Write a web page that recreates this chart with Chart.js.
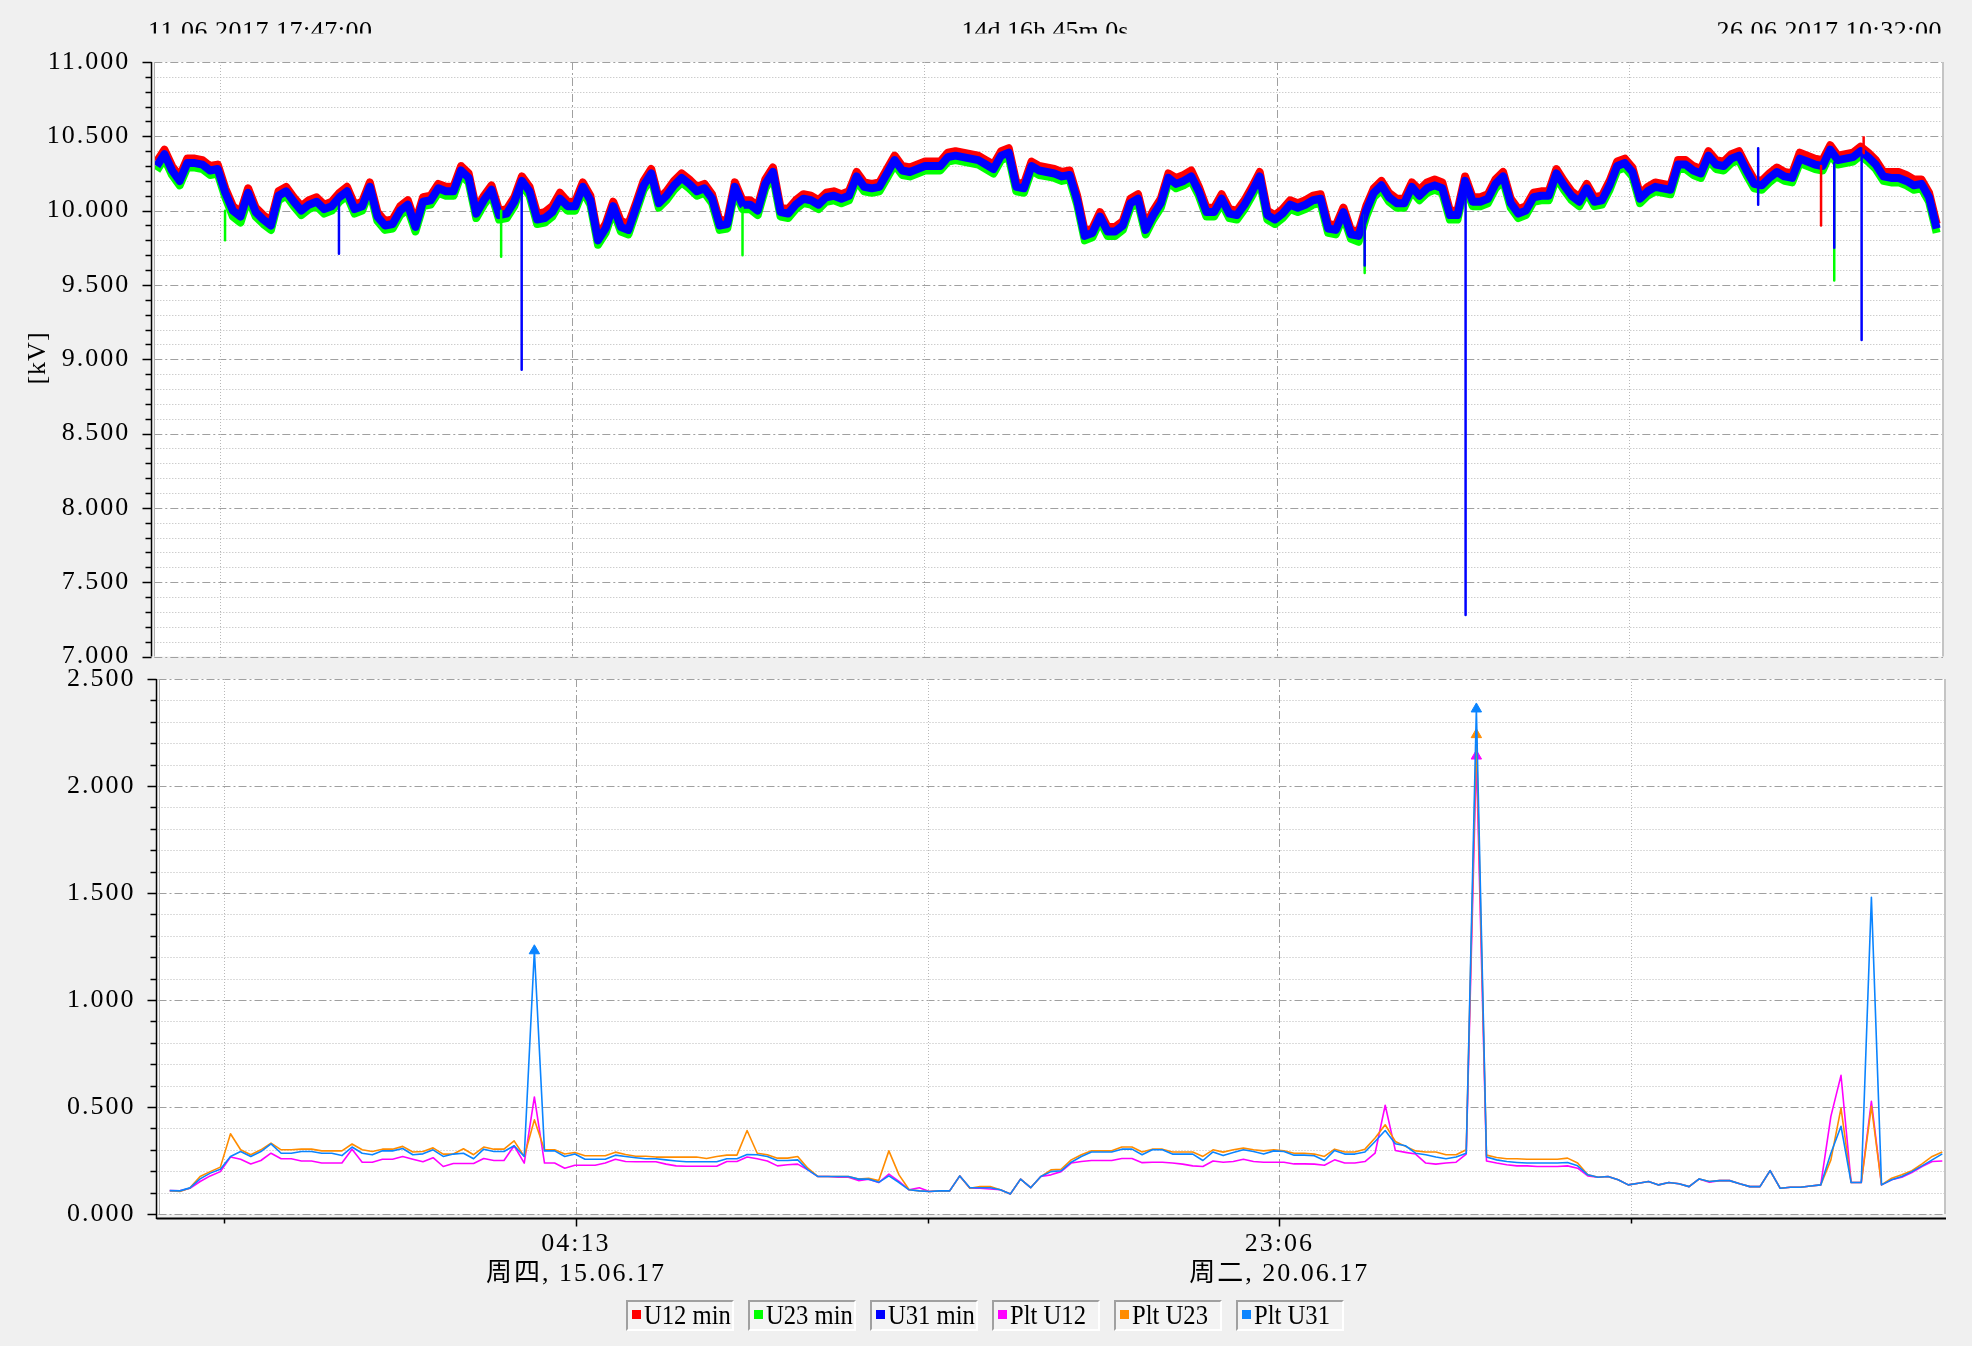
<!DOCTYPE html>
<html>
<head>
<meta charset="utf-8">
<script src="https://cdn.jsdelivr.net/npm/chart.js@4.4.1/dist/chart.umd.min.js"></script>
<style>
html,body{margin:0;padding:0;background:#f0f0f0;}
#wrap{position:relative;width:1972px;height:1346px;overflow:hidden;background:#f0f0f0;}
#wrap canvas{position:absolute;left:0;top:0;}
#legend{position:absolute;left:626px;top:1300px;display:flex;gap:14px;}
.item{position:relative;box-sizing:border-box;width:108px;height:31px;border-style:solid;border-width:2px;border-color:#a0a0a0 #ffffff #ffffff #a0a0a0;background:#f3f3f3;}
.sw{position:absolute;left:4px;top:8px;width:9px;height:9px;}
.tx{position:absolute;left:16px;top:-1px;font-family:"Liberation Serif","Noto Sans CJK SC",serif;font-size:28px;line-height:27px;white-space:nowrap;transform:scaleX(0.88);transform-origin:left center;color:#000;}
</style>
</head>
<body>
<div id="wrap">
  <canvas id="topChart" width="1972" height="1346"></canvas>
  <canvas id="botChart" width="1972" height="1346"></canvas>
  <div id="legend"></div>
</div>
<script>
// ---------- texts / ticks ----------
const headerStart = '11.06.2017 17:47:00';
const headerMid = '14d 16h 45m 0s';
const headerEnd = '26.06.2017 10:32:00';
const unitLabel = '[kV]';
const spanMinutes = 21165;                      // 11.06.2017 17:47 -> 26.06.2017 10:32
const xGridMinutes = [779.5, 4946, 9112.5, 13279, 17445.5];
const xMajorMinutes = [4946, 13279];
const xTickLabels = ['', ['04:13', '周四, 15.06.17'], '', ['23:06', '周二, 20.06.17'], ''];
const topYTicks = [7.0, 7.5, 8.0, 8.5, 9.0, 9.5, 10.0, 10.5, 11.0];
const botYTicks = [0.0, 0.5, 1.0, 1.5, 2.0, 2.5];
const legendNames = ['U12 min', 'U23 min', 'U31 min', 'Plt U12', 'Plt U23', 'Plt U31'];
const legendColors = ['#ff0000', '#00ff00', '#0000ff', '#ff00ff', '#ff8c00', '#0a84ff'];

// ---------- top chart: minimum voltages (kV), sampled every 90 min from +30 min ----------
const topSampleStartMin = 30, topSampleStepMin = 90;
const u12Min = [
10.33,10.41,10.30,10.23,10.35,10.35,10.34,10.30,10.31,10.15,
10.03,9.99,10.15,10.02,9.97,9.93,10.13,10.16,10.09,10.03,
10.07,10.09,10.04,10.06,10.12,10.16,10.04,10.06,10.19,9.99,
9.93,9.94,10.03,10.07,9.92,10.09,10.10,10.18,10.16,10.16,
10.30,10.25,10.01,10.10,10.17,10.00,10.01,10.09,10.23,10.16,
9.98,9.99,10.03,10.12,10.06,10.06,10.19,10.10,9.83,
9.91,10.06,9.93,9.91,10.05,10.20,10.28,10.08,10.13,10.20,
10.25,10.21,10.16,10.18,10.11,9.93,9.94,10.19,10.07,10.07,
10.03,10.21,10.29,10.02,10.01,10.07,10.11,10.10,10.07,10.12,
10.13,10.11,10.13,10.26,10.19,10.18,10.19,10.28,10.37,10.30,
10.29,10.31,10.33,10.33,10.33,10.39,10.40,10.39,10.38,10.37,
10.34,10.31,10.40,10.42,10.19,10.18,10.33,10.30,10.29,
10.28,10.26,10.27,10.10,9.86,9.88,9.99,9.89,9.89,9.93,
10.08,10.11,9.90,10.00,10.08,10.25,10.22,10.24,10.27,10.16,
10.02,10.02,10.11,10.01,10.00,10.07,10.16,10.26,10.00,9.97,
10.01,10.07,10.05,10.07,10.10,10.11,9.91,9.90,10.02,9.87,
9.86,10.03,10.15,10.20,10.12,10.08,10.08,10.19,10.14,10.19,
10.21,10.19,10.00,10.00,10.23,10.09,10.09,10.11,10.21,
10.26,10.08,10.01,10.03,10.12,10.13,10.13,10.28,10.20,10.13,
10.09,10.18,10.09,10.10,10.20,10.33,10.35,10.29,10.11,10.16,
10.19,10.18,10.17,10.34,10.34,10.30,10.28,10.40,10.34,10.33,
10.38,10.40,10.30,10.21,10.20,10.25,10.29,10.26,10.25,10.39,
10.37,10.35,10.34,10.44,10.37,10.38,10.39,10.43,10.39,10.34,
10.26,10.26,10.26,10.24,10.21,10.21,10.12,9.91];
const u23Min = [
10.27,10.35,10.24,10.17,10.29,10.29,10.28,10.24,10.25,10.09,
9.96,9.92,10.08,9.96,9.91,9.87,10.07,10.10,10.03,9.97,
10.01,10.03,9.98,10.00,10.06,10.10,9.98,10.00,10.13,9.93,
9.87,9.88,9.97,10.01,9.86,10.03,10.04,10.12,10.10,10.10,
10.24,10.19,9.95,10.04,10.11,9.94,9.95,10.03,10.17,10.10,
9.91,9.92,9.96,10.05,10.00,10.00,10.13,10.04,9.77,
9.85,10.00,9.86,9.84,9.99,10.14,10.22,10.02,10.07,10.14,
10.19,10.15,10.10,10.12,10.05,9.87,9.88,10.13,10.01,10.01,
9.97,10.15,10.23,9.96,9.95,10.01,10.05,10.04,10.01,10.06,
10.07,10.05,10.07,10.20,10.13,10.12,10.13,10.22,10.31,10.24,
10.23,10.25,10.27,10.27,10.27,10.33,10.34,10.33,10.32,10.31,
10.28,10.25,10.34,10.36,10.13,10.12,10.27,10.24,10.23,
10.22,10.20,10.21,10.04,9.80,9.82,9.93,9.83,9.83,9.87,
10.02,10.05,9.84,9.94,10.02,10.19,10.15,10.17,10.20,10.10,
9.96,9.96,10.05,9.95,9.94,10.01,10.10,10.20,9.94,9.91,
9.95,10.01,9.99,10.01,10.04,10.05,9.85,9.84,9.96,9.81,
9.79,9.96,10.09,10.14,10.06,10.02,10.02,10.13,10.07,10.12,
10.14,10.12,9.94,9.94,10.17,10.03,10.03,10.05,10.15,
10.20,10.02,9.95,9.97,10.06,10.07,10.07,10.22,10.14,10.07,
10.03,10.12,10.03,10.04,10.14,10.27,10.29,10.23,10.05,10.10,
10.13,10.12,10.11,10.28,10.28,10.24,10.22,10.34,10.28,10.27,
10.32,10.34,10.24,10.15,10.14,10.19,10.23,10.20,10.19,10.32,
10.30,10.28,10.27,10.38,10.31,10.32,10.33,10.37,10.33,10.28,
10.20,10.19,10.19,10.17,10.14,10.15,10.06,9.85];
const u31Min = [
10.30,10.38,10.27,10.20,10.32,10.32,10.31,10.27,10.28,10.12,
10.00,9.96,10.12,9.99,9.94,9.90,10.10,10.13,10.06,10.00,
10.04,10.06,10.01,10.03,10.09,10.13,10.01,10.03,10.16,9.96,
9.90,9.91,10.00,10.04,9.89,10.06,10.07,10.15,10.13,10.13,
10.27,10.22,9.98,10.07,10.14,9.97,9.98,10.06,10.20,10.13,
9.94,9.95,9.99,10.08,10.03,10.03,10.16,10.07,9.80,
9.88,10.03,9.89,9.87,10.02,10.17,10.25,10.05,10.10,10.17,
10.22,10.18,10.13,10.15,10.08,9.90,9.91,10.16,10.04,10.04,
10.00,10.18,10.26,9.99,9.98,10.04,10.08,10.07,10.04,10.09,
10.10,10.08,10.10,10.23,10.16,10.15,10.16,10.25,10.34,10.27,
10.26,10.28,10.30,10.30,10.30,10.36,10.37,10.36,10.35,10.34,
10.31,10.28,10.37,10.39,10.16,10.15,10.30,10.27,10.26,
10.25,10.23,10.24,10.07,9.83,9.85,9.96,9.86,9.86,9.90,
10.05,10.08,9.87,9.97,10.05,10.22,10.18,10.20,10.23,10.13,
9.99,9.99,10.08,9.98,9.97,10.04,10.13,10.23,9.97,9.94,
9.98,10.04,10.02,10.04,10.07,10.08,9.88,9.87,9.99,9.84,
9.83,10.00,10.12,10.17,10.09,10.05,10.05,10.16,10.10,10.15,
10.17,10.15,9.97,9.97,10.20,10.06,10.06,10.08,10.18,
10.23,10.05,9.98,10.00,10.09,10.10,10.10,10.25,10.17,10.10,
10.06,10.15,10.06,10.07,10.17,10.30,10.32,10.26,10.08,10.13,
10.16,10.15,10.14,10.31,10.31,10.27,10.25,10.37,10.31,10.30,
10.35,10.37,10.27,10.18,10.17,10.22,10.26,10.23,10.22,10.35,
10.33,10.31,10.30,10.41,10.34,10.35,10.36,10.40,10.36,10.31,
10.23,10.22,10.22,10.20,10.17,10.18,10.09,9.88];

// single-sample dips/peaks (minute of event, band level, extreme)
const u12SpikeMin = [19722, 20226];
const u12SpikeFrom = [10.30, 10.38];
const u12SpikeTo = [9.90, 10.50];
const u23SpikeMin = [837, 4104, 6960, 14322, 19878];
const u23SpikeFrom = [10.00, 10.00, 10.02, 9.97, 10.30];
const u23SpikeTo = [9.80, 9.69, 9.70, 9.58, 9.53];
const u31SpikeMin = [2185, 4347, 14322, 15516, 18978, 19878, 20202];
const u31SpikeFrom = [10.09, 10.20, 10.00, 10.20, 10.42, 10.32, 10.38];
const u31SpikeTo = [9.71, 8.93, 9.63, 7.28, 10.04, 9.75, 9.13];

// ---------- bottom chart: Plt, every 120 min from +133 min (20:00) ----------
const pltStartMin = 133, pltStepMin = 120;
const pltU12 = [
0.109,0.108,0.120,0.152,0.178,0.198,0.266,0.256,0.234,0.250,
0.284,0.258,0.258,0.248,0.248,0.238,0.238,0.238,0.303,0.242,
0.242,0.256,0.256,0.269,0.256,0.244,0.263,0.222,0.236,0.236,
0.236,0.259,0.250,0.250,0.319,0.238,0.547,0.238,0.238,0.214,
0.228,0.228,0.228,0.238,0.256,0.245,0.244,0.244,0.244,0.233,
0.225,0.223,0.223,0.223,0.223,0.245,0.245,0.266,0.258,0.248,
0.225,0.230,0.233,0.206,0.175,0.175,0.172,0.172,0.156,0.163,
0.147,0.186,0.152,0.113,0.123,0.105,0.108,0.108,0.178,0.120,
0.120,0.117,0.113,0.094,0.163,0.123,0.175,0.183,0.198,0.238,
0.245,0.250,0.250,0.250,0.259,0.259,0.240,0.242,0.242,0.238,
0.233,0.225,0.222,0.248,0.242,0.245,0.256,0.245,0.242,0.242,
0.242,0.234,0.234,0.233,0.228,0.253,0.238,0.238,0.245,0.284,
0.508,0.297,0.288,0.280,0.238,0.233,0.238,0.242,0.280,2.14,
0.248,0.238,0.230,0.225,0.225,0.222,0.222,0.222,0.225,0.214,
0.178,0.172,0.175,0.160,0.136,0.144,0.152,0.136,0.147,0.141,
0.128,0.164,0.148,0.156,0.156,0.141,0.128,0.128,0.203,0.120,
0.125,0.125,0.131,0.136,0.456,0.648,0.147,0.147,0.527,0.136,
0.160,0.172,0.194,0.222,0.245,0.248];
const pltU23 = [
0.109,0.105,0.122,0.175,0.198,0.219,0.375,0.300,0.277,0.300,
0.331,0.300,0.300,0.303,0.303,0.295,0.295,0.295,0.327,0.300,
0.292,0.303,0.303,0.316,0.290,0.292,0.309,0.280,0.280,0.305,
0.277,0.313,0.303,0.303,0.342,0.269,0.440,0.300,0.300,0.280,
0.287,0.272,0.272,0.272,0.289,0.278,0.270,0.270,0.266,0.266,
0.266,0.266,0.266,0.259,0.269,0.275,0.275,0.390,0.284,0.277,
0.261,0.261,0.269,0.214,0.175,0.175,0.175,0.175,0.163,0.167,
0.156,0.295,0.183,0.113,0.108,0.105,0.108,0.108,0.178,0.120,
0.128,0.128,0.113,0.094,0.163,0.123,0.175,0.206,0.209,0.253,
0.277,0.295,0.295,0.295,0.313,0.313,0.290,0.303,0.303,0.290,
0.290,0.290,0.269,0.300,0.289,0.300,0.308,0.300,0.295,0.300,
0.295,0.284,0.284,0.280,0.269,0.303,0.290,0.290,0.303,0.355,
0.417,0.339,0.316,0.295,0.290,0.290,0.277,0.277,0.300,2.24,
0.275,0.264,0.258,0.258,0.256,0.256,0.256,0.256,0.261,0.238,
0.183,0.172,0.175,0.160,0.136,0.144,0.152,0.136,0.147,0.141,
0.128,0.164,0.152,0.156,0.156,0.141,0.128,0.128,0.203,0.120,
0.125,0.125,0.131,0.136,0.253,0.495,0.147,0.147,0.503,0.136,
0.167,0.183,0.202,0.234,0.269,0.290];
const pltU31 = [
0.109,0.108,0.122,0.164,0.191,0.209,0.269,0.292,0.269,0.292,
0.328,0.284,0.284,0.292,0.292,0.284,0.284,0.273,0.313,0.284,
0.277,0.295,0.295,0.306,0.277,0.281,0.300,0.269,0.280,0.284,
0.258,0.303,0.292,0.292,0.319,0.269,1.23,0.295,0.295,0.269,
0.280,0.256,0.256,0.256,0.275,0.269,0.263,0.258,0.258,0.253,
0.248,0.244,0.244,0.244,0.244,0.258,0.258,0.278,0.277,0.269,
0.250,0.250,0.253,0.206,0.175,0.175,0.175,0.175,0.163,0.163,
0.148,0.178,0.147,0.113,0.108,0.105,0.108,0.108,0.178,0.123,
0.123,0.123,0.113,0.094,0.163,0.123,0.175,0.198,0.202,0.242,
0.269,0.290,0.290,0.290,0.303,0.303,0.277,0.300,0.300,0.280,
0.280,0.280,0.250,0.290,0.273,0.287,0.300,0.292,0.280,0.295,
0.292,0.275,0.275,0.272,0.250,0.297,0.280,0.280,0.290,0.339,
0.390,0.328,0.319,0.284,0.277,0.266,0.258,0.266,0.284,2.36,
0.266,0.253,0.245,0.241,0.238,0.238,0.238,0.238,0.241,0.225,
0.183,0.172,0.175,0.160,0.136,0.144,0.152,0.136,0.147,0.141,
0.128,0.164,0.152,0.156,0.156,0.141,0.128,0.128,0.203,0.120,
0.125,0.125,0.131,0.136,0.284,0.410,0.147,0.147,1.48,0.136,
0.160,0.175,0.198,0.225,0.253,0.281];
const markU12 = [129];
const markU23 = [129];
const markU31 = [36, 129];

// ---------- helpers ----------
const FONT = '"Liberation Serif", "Noto Sans CJK SC", serif';
Chart.defaults.font.family = FONT;
Chart.defaults.color = '#000';

function topSeries(vals) {
  return vals.map((v, i) => ({x: topSampleStartMin + i * topSampleStepMin, y: v}));
}
function spikeSeries(t, from, to) {
  const d = [];
  t.forEach((tt, i) => { d.push({x: tt, y: from[i]}, {x: tt, y: to[i]}, {x: tt, y: null}); });
  return d;
}
function pltSeries(vals) {
  return vals.map((v, k) => ({x: pltStartMin + k * pltStepMin, y: v}));
}

const MAJOR_COL = '#a0a0a0', MINOR_COL = '#b8b8b8';

function framePlugin(kind) {
  return {
    id: 'frame_' + kind,
    beforeDraw(chart) {
      const {ctx, chartArea: a} = chart;
      ctx.letterSpacing = '2px';
      ctx.save();
      ctx.fillStyle = '#ffffff';
      ctx.fillRect(a.left, a.top, a.right - a.left, a.bottom - a.top);
      ctx.restore();
    },
    beforeDatasetsDraw(chart) {
      const {ctx, chartArea: a, scales} = chart;
      const ys = scales.y, xs = scales.x;
      ctx.save();
      ctx.lineWidth = 1;
      const steps = Math.round((ys.max - ys.min) * 10);
      for (let j = 0; j <= steps; j++) {
        const v = ys.min + j / 10;
        const y = Math.round(ys.getPixelForValue(v)) + 0.5;
        const major = j % 5 === 0;
        ctx.strokeStyle = major ? MAJOR_COL : MINOR_COL;
        ctx.setLineDash(major ? [8, 3, 2, 3] : [1, 2]);
        ctx.beginPath(); ctx.moveTo(a.left, y); ctx.lineTo(a.right, y); ctx.stroke();
      }
      xGridMinutes.forEach(t => {
        const x = Math.round(xs.getPixelForValue(t)) + 0.5;
        const major = xMajorMinutes.includes(t);
        ctx.strokeStyle = major ? MAJOR_COL : MINOR_COL;
        ctx.setLineDash(major ? [8, 3, 2, 3] : [1, 2]);
        ctx.beginPath(); ctx.moveTo(x, a.top); ctx.lineTo(x, a.bottom); ctx.stroke();
      });
      ctx.restore();
    },
    afterDatasetsDraw(chart) {
      const {ctx, chartArea: a, scales} = chart;
      const ys = scales.y, xs = scales.x;
      ctx.save();
      ctx.setLineDash([]);
      ctx.strokeStyle = '#c4c4c4'; ctx.lineWidth = 2;
      ctx.beginPath(); ctx.moveTo(a.right, a.top); ctx.lineTo(a.right, a.bottom); ctx.stroke();
      ctx.strokeStyle = '#b0b0b0'; ctx.lineWidth = 1;
      ctx.beginPath(); ctx.moveTo(Math.round(a.left) + 0.5, a.top); ctx.lineTo(Math.round(a.left) + 0.5, a.bottom); ctx.stroke();
      const ax = Math.round(a.left) - 2.5;
      const axBottom = kind === 'bot' ? a.bottom + 5 : a.bottom;
      ctx.strokeStyle = '#000'; ctx.lineWidth = 1.5;
      ctx.beginPath(); ctx.moveTo(ax, a.top); ctx.lineTo(ax, axBottom); ctx.stroke();
      const steps = Math.round((ys.max - ys.min) * 10);
      for (let j = 0; j <= steps; j++) {
        const y = Math.round(ys.getPixelForValue(ys.min + j / 10)) + 0.5;
        const len = j % 5 === 0 ? 9 : 6;
        ctx.beginPath(); ctx.moveTo(ax - len, y); ctx.lineTo(ax, y); ctx.stroke();
      }
      if (kind === 'bot') {
        const yb = Math.round(a.bottom) + 4.5;
        ctx.lineWidth = 2;
        ctx.beginPath(); ctx.moveTo(ax, yb); ctx.lineTo(a.right + 1, yb); ctx.stroke();
        ctx.lineWidth = 1.5;
        xGridMinutes.forEach(t => {
          const x = Math.round(xs.getPixelForValue(t)) + 0.5;
          const len = xMajorMinutes.includes(t) ? 8 : 5;
          ctx.beginPath(); ctx.moveTo(x, yb); ctx.lineTo(x, yb + len); ctx.stroke();
        });
      }
      ctx.restore();
    },
    afterDraw(chart) {
      if (kind !== 'top') return;
      const ctx = chart.ctx;
      ctx.save();
      ctx.beginPath(); ctx.rect(0, 0, 1972, 33.5); ctx.clip();
      ctx.fillStyle = '#000';
      ctx.font = '26px ' + FONT;
      ctx.textBaseline = 'alphabetic';
      ctx.letterSpacing = '0.5px';
      ctx.textAlign = 'left'; ctx.fillText(headerStart, 148, 39);
      ctx.letterSpacing = '0px';
      ctx.textAlign = 'center'; ctx.fillText(headerMid, 1045, 39);
      ctx.letterSpacing = '0.5px';
      ctx.textAlign = 'right'; ctx.fillText(headerEnd, 1942, 39);
      ctx.restore();
      ctx.save();
      ctx.fillStyle = '#000';
      ctx.font = '26px ' + FONT;
      ctx.letterSpacing = '1px';
      ctx.translate(38, 358); ctx.rotate(-Math.PI / 2);
      ctx.textAlign = 'center'; ctx.textBaseline = 'middle';
      ctx.fillText(unitLabel, 0, 0);
      ctx.restore();
    }
  };
}

const commonOpts = {
  responsive: false,
  animation: false,
  events: [],
  plugins: {legend: {display: false}, tooltip: {enabled: false}},
  elements: {point: {radius: 0}, line: {tension: 0, borderJoinStyle: 'round'}}
};

// ---------- top chart ----------
new Chart(document.getElementById('topChart'), {
  type: 'line',
  data: {
    datasets: [
      {label: 'U12 min', data: topSeries(u12Min), borderColor: '#ff0000', borderWidth: 8, order: 6, clip: 0, pointRadius: 0},
      {label: 'U23 min', data: topSeries(u23Min), borderColor: '#00ff00', borderWidth: 8, order: 5, clip: 0, pointRadius: 0},
      {label: 'U31 min', data: topSeries(u31Min), borderColor: '#0000ff', borderWidth: 8, order: 4, clip: 0, pointRadius: 0},
      {label: 'U12 spikes', data: spikeSeries(u12SpikeMin, u12SpikeFrom, u12SpikeTo), borderColor: '#ff0000', borderWidth: 2.5, order: 2, clip: 0, pointRadius: 0, spanGaps: false},
      {label: 'U23 spikes', data: spikeSeries(u23SpikeMin, u23SpikeFrom, u23SpikeTo), borderColor: '#00ff00', borderWidth: 2.5, order: 3, clip: 0, pointRadius: 0, spanGaps: false},
      {label: 'U31 spikes', data: spikeSeries(u31SpikeMin, u31SpikeFrom, u31SpikeTo), borderColor: '#0000ff', borderWidth: 2.5, order: 1, clip: 0, pointRadius: 0, spanGaps: false}
    ]
  },
  options: Object.assign({}, commonOpts, {
    layout: {padding: {left: 0, top: 62, right: 29, bottom: 689.5}},
    scales: {
      x: {
        type: 'linear', min: 0, max: spanMinutes,
        grid: {display: false}, border: {display: false},
        ticks: {display: false},
        afterFit: s => { s.height = 0; }
      },
      y: {
        type: 'linear', min: 7, max: 11,
        afterBuildTicks: s => { s.ticks = topYTicks.map(v => ({value: v})); },
        grid: {display: false}, border: {display: false},
        ticks: {callback: v => Number(v).toFixed(3), font: {size: 26}, padding: 16, color: '#000'},
        afterFit: s => { s.width = 154.3; }
      }
    }
  }),
  plugins: [framePlugin('top')]
});

// ---------- bottom chart ----------
function markRadius(list) {
  return ctx => (list.includes(ctx.dataIndex) ? 6 : 0);
}
new Chart(document.getElementById('botChart'), {
  type: 'line',
  data: {
    datasets: [
      {label: 'Plt U12', data: pltSeries(pltU12), borderColor: '#ff00ff', backgroundColor: '#ff00ff', borderWidth: 1.6, order: 3,
       pointStyle: 'triangle', pointRadius: markRadius(markU12), pointBackgroundColor: '#ff00ff', pointBorderColor: '#ff00ff', pointBorderWidth: 1},
      {label: 'Plt U23', data: pltSeries(pltU23), borderColor: '#ff8c00', backgroundColor: '#ff8c00', borderWidth: 1.6, order: 2,
       pointStyle: 'triangle', pointRadius: markRadius(markU23), pointBackgroundColor: '#ff8c00', pointBorderColor: '#ff8c00', pointBorderWidth: 1},
      {label: 'Plt U31', data: pltSeries(pltU31), borderColor: '#0a84ff', backgroundColor: '#0a84ff', borderWidth: 1.6, order: 1,
       pointStyle: 'triangle', pointRadius: markRadius(markU31), pointBackgroundColor: '#0a84ff', pointBorderColor: '#0a84ff', pointBorderWidth: 1}
    ]
  },
  options: Object.assign({}, commonOpts, {
    layout: {padding: {left: 0, top: 679, right: 27, bottom: 32}},
    scales: {
      x: {
        type: 'linear', min: 0, max: spanMinutes,
        afterBuildTicks: s => { s.ticks = xGridMinutes.map(v => ({value: v})); },
        grid: {display: false}, border: {display: false},
        ticks: {
          callback: (v, i) => xTickLabels[i],
          autoSkip: false, maxRotation: 0, minRotation: 0, padding: 7,
          font: {size: 26, lineHeight: '30px'}, color: '#000'
        },
        afterFit: s => { s.height = 100; }
      },
      y: {
        type: 'linear', min: 0, max: 2.5,
        afterBuildTicks: s => { s.ticks = botYTicks.map(v => ({value: v})); },
        grid: {display: false}, border: {display: false},
        ticks: {callback: v => Number(v).toFixed(3), font: {size: 26}, padding: 15, color: '#000'},
        afterFit: s => { s.width = 158.5; }
      }
    }
  }),
  plugins: [framePlugin('bot')]
});

// ---------- legend ----------
const legendEl = document.getElementById('legend');
legendNames.forEach((name, i) => {
  const item = document.createElement('div');
  item.className = 'item';
  const sw = document.createElement('span');
  sw.className = 'sw';
  sw.style.background = legendColors[i];
  const tx = document.createElement('span');
  tx.className = 'tx';
  tx.textContent = name;
  item.appendChild(sw);
  item.appendChild(tx);
  legendEl.appendChild(item);
});
</script>
</body>
</html>
